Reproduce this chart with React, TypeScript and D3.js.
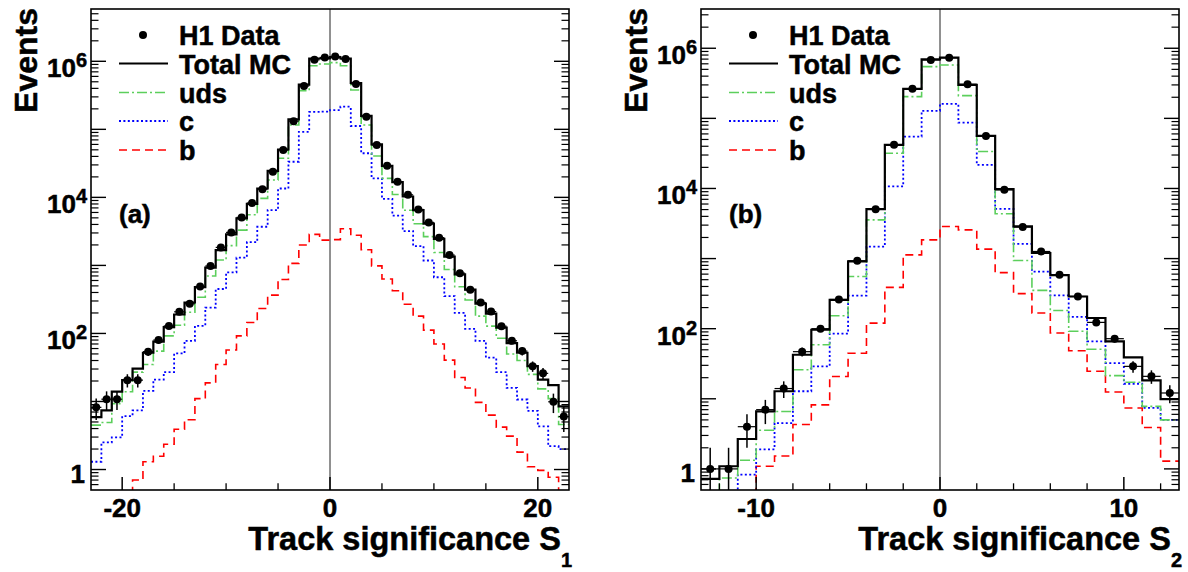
import * as d3 from 'd3';

const FONT = '"Liberation Sans", Arial, Helvetica, sans-serif';

// (a) track significance S1, 1-unit bins from -23 to 23
const s1Range: [number, number] = [-23, 23];
const s1Data = [8.2, 10.8, 10.8, 20.6, 20.6, 54, 80, 129, 208, 273, 490, 980, 1840, 3055, 5080, 8250, 13200, 23800, 49600, 132000, 433000, 1050000, 1140000, 1180000, 1080000, 464000, 153000, 58700, 29200, 17000, 10900, 6650, 4290, 2560, 1420, 770, 438, 285, 210, 128, 78, 55, 33, 25.9, 9.9, 6.0];
const s1MC = [5.9, 7.4, 14, 20.6, 30.5, 52, 76, 124, 190, 285, 480, 930, 1680, 2850, 4900, 8000, 13500, 24500, 50500, 140000, 455000, 1100000, 1100000, 1150000, 1100000, 480000, 158000, 60000, 29000, 16800, 10300, 6500, 4100, 2450, 1350, 740, 440, 275, 195, 122, 72, 52, 33, 21, 17.4, 8.5];
const s1Uds = [4.5, 4.9, 9.3, 13.9, 27, 35, 55, 92, 132, 205, 340, 700, 1200, 1950, 3300, 5550, 9660, 18000, 37500, 116000, 371000, 861000, 912000, 955000, 861000, 378000, 116000, 40500, 19000, 11000, 6470, 4100, 2650, 1550, 870, 485, 310, 180, 128, 85, 50, 40, 25, 15.3, 11, 4.6];
const s1C = [1.3, 2.5, 2.96, 6.1, 7.4, 14.3, 21, 27, 51, 78, 129, 240, 450, 790, 1300, 2200, 3700, 6500, 13500, 33400, 92000, 180000, 182000, 192000, 215000, 112000, 44500, 19000, 9500, 5400, 3200, 1920, 1180, 670, 354, 200, 117, 78, 44, 27, 15.8, 10.7, 7.3, 4.3, 2.2, 2.0];
const s1B = [0.3, 0.3, 0.3, 0.3, 0.7, 1.3, 1.57, 2.35, 3.9, 5.4, 11, 18.8, 35, 57, 92, 145, 233, 366, 620, 1070, 2000, 2860, 2350, 2390, 3450, 2780, 1700, 985, 630, 424, 268, 180, 112, 70, 40.5, 22.5, 15.8, 9.7, 6.3, 4.2, 3.1, 1.8, 1.1, 0.97, 0.77, 0.3];
const s1MajorTicks = [-20, 0, 20];
const s1MinorTicks = [-15, -10, -5, 5, 10, 15];

// (b) track significance S2, 1-unit bins from -13 to 13
const s2Range: [number, number] = [-13, 13];
const s2Data = [1, 1, 4, 7, 14, 47, 100, 261, 930, 5070, 41900, 265000, 680000, 734000, 307000, 56200, 9550, 2810, 1262, 587, 288, 123, 72, 29, 20.9, 12.1];
const s2MC = [0.72, 1.09, 2.67, 6.6, 12.8, 42.5, 96.6, 258, 910, 5070, 41900, 264000, 695000, 736000, 300000, 56400, 9800, 2880, 1200, 582, 288, 142, 66, 39, 18.3, 9.9];
const s2Uds = [0.45, 0.74, 1.33, 3.55, 6.6, 26, 59, 153, 556, 3570, 31800, 204000, 547000, 578000, 211000, 33600, 4350, 940, 352, 182, 92, 51, 21.4, 17.2, 7.8, 5.0];
const s2C = [0.3, 0.3, 0.83, 1.9, 4.5, 12.8, 29, 85, 296, 1480, 10700, 55000, 128000, 161000, 87000, 21700, 5110, 1620, 653, 298, 147, 66, 32.3, 16.4, 7.4, 5.0];
const s2B = [0.3, 0.3, 0.3, 1.09, 1.53, 4.3, 8.2, 20.8, 44.7, 120, 388, 1130, 1850, 2870, 2570, 1365, 631, 316, 167, 86.7, 48.5, 24.7, 12.5, 7.4, 3.9, 1.29];
const s2MajorTicks = [-10, 0, 10];
const s2MinorTicks = [-12, -8, -6, -4, -2, 2, 4, 6, 8, 12];

const yLabelPowers = [0, 2, 4, 6];
const legendLabels = ['H1 Data', 'Total MC', 'uds', 'c', 'b'];

const GREEN = '#5ccf5c';
const styles = {
  mc: { stroke: '#000', width: 2.2, dash: undefined as string | undefined },
  uds: { stroke: GREEN, width: 1.6, dash: '10 3 2 3' },
  c: { stroke: '#0000ff', width: 1.8, dash: '2 2.4' },
  b: { stroke: '#ff0000', width: 1.6, dash: '8 5' },
};

const TOP = 9;
const BOTTOM = 490;

interface PanelProps {
  id: string;
  left: number;
  right: number;
  range: [number, number];
  yMax: number;
  data: number[];
  mc: number[];
  uds: number[];
  c: number[];
  b: number[];
  major: number[];
  minor: number[];
  tag: string;
  sub: string;
}

function Panel(p: PanelProps) {
  const x = d3.scaleLinear().domain(p.range).range([p.left, p.right]);
  const y = d3.scaleLog().domain([0.5, p.yMax]).range([BOTTOM, TOP]);
  const edge = (i: number) => p.range[0] + i;

  const step = d3
    .line<[number, number]>()
    .x((d) => x(d[0]))
    .y((d) => y(Math.max(d[1], 0.05)));
  const stepPath = (vals: number[]) =>
    step(vals.flatMap((v, i) => [[edge(i), v], [edge(i + 1), v]] as [number, number][])) || '';

  // log-axis ticks
  const yMajor: number[] = [];
  const yMinor: number[] = [];
  for (let k = -1; k <= 7; k++) {
    for (let m = 1; m <= 9; m++) {
      const v = m * Math.pow(10, k);
      if (v <= 0.5 || v >= p.yMax) continue;
      (m === 1 ? yMajor : yMinor).push(v);
    }
  }

  const clipId = `clip-${p.id}`;
  const legendRows = [35, 63.5, 92.5, 121, 150];
  const series = [
    { key: 'mc', vals: p.mc },
    { key: 'uds', vals: p.uds },
    { key: 'c', vals: p.c },
    { key: 'b', vals: p.b },
  ] as const;

  return (
    <g>
      <defs>
        <clipPath id={clipId}>
          <rect x={p.left} y={TOP} width={p.right - p.left} height={BOTTOM - TOP} />
        </clipPath>
      </defs>

      {/* zero line */}
      <line x1={x(0)} x2={x(0)} y1={TOP} y2={BOTTOM} stroke="#222" strokeWidth={1} />

      <g clipPath={`url(#${clipId})`}>
        {[...series].reverse().map((s) => {
          const st = styles[s.key];
          return (
            <path
              key={s.key}
              d={stepPath(s.vals)}
              fill="none"
              stroke={st.stroke}
              strokeWidth={st.width}
              strokeDasharray={st.dash}
            />
          );
        })}
        {p.data.map((v, i) => {
          const cx = x(edge(i) + 0.5);
          const err = Math.sqrt(v);
          return (
            <g key={i}>
              <line x1={x(edge(i))} x2={x(edge(i + 1))} y1={y(v)} y2={y(v)} stroke="#000" strokeWidth={1.2} />
              <line x1={cx} x2={cx} y1={y(Math.max(v - err, 0.05))} y2={y(v + err)} stroke="#000" strokeWidth={1.5} />
              <circle cx={cx} cy={y(v)} r={4} fill="#000" />
            </g>
          );
        })}
      </g>

      {/* frame */}
      <rect x={p.left} y={TOP} width={p.right - p.left} height={BOTTOM - TOP} fill="none" stroke="#000" strokeWidth={1.6} />

      {/* y ticks both sides */}
      {yMajor.map((v) => (
        <g key={`M${v}`}>
          <line x1={p.left} x2={p.left + 15} y1={y(v)} y2={y(v)} stroke="#000" strokeWidth={1.4} />
          <line x1={p.right} x2={p.right - 15} y1={y(v)} y2={y(v)} stroke="#000" strokeWidth={1.4} />
        </g>
      ))}
      {yMinor.map((v) => (
        <g key={`m${v}`}>
          <line x1={p.left} x2={p.left + 7.5} y1={y(v)} y2={y(v)} stroke="#000" strokeWidth={1.2} />
          <line x1={p.right} x2={p.right - 7.5} y1={y(v)} y2={y(v)} stroke="#000" strokeWidth={1.2} />
        </g>
      ))}

      {/* x ticks */}
      {p.major.map((t) => (
        <line key={`X${t}`} x1={x(t)} x2={x(t)} y1={BOTTOM} y2={BOTTOM - 13} stroke="#000" strokeWidth={1.5} />
      ))}
      {p.minor.map((t) => (
        <line key={`x${t}`} x1={x(t)} x2={x(t)} y1={BOTTOM} y2={BOTTOM - 6.7} stroke="#000" strokeWidth={1.3} />
      ))}

      <g fontFamily={FONT} fontWeight="bold" fill="#000" stroke="#000" strokeWidth={0.5}>
        {p.major.map((t) => (
          <text key={`l${t}`} x={x(t)} y={516.5} fontSize={26} textAnchor="middle">
            {t < 0 ? `-${-t}` : t}
          </text>
        ))}
        {yLabelPowers.map((k) =>
          k === 0 ? (
            <text key={k} x={p.left - 6} y={y(1) + 13.5} fontSize={26} textAnchor="end">
              1
            </text>
          ) : (
            <text key={k} x={p.left - 4} y={y(Math.pow(10, k)) + 16} fontSize={26} textAnchor="end">
              10
              <tspan fontSize={20} dy={-10}>
                {k}
              </tspan>
            </text>
          ),
        )}

        <text transform={`translate(${p.left - 54},8) rotate(-90)`} fontSize={32} textAnchor="end">
          Events
        </text>

        <text x={p.right + 3} y={550} fontSize={32.5} textAnchor="end">
          Track significance S
          <tspan fontSize={20} dy={17}>
            {p.sub}
          </tspan>
        </text>

        <text x={p.left + 28} y={222.5} fontSize={26}>
          {p.tag}
        </text>

        {/* legend */}
        {legendLabels.map((lab, i) => {
          const ly = legendRows[i];
          const st = i === 0 ? null : styles[series[i - 1].key];
          return (
            <g key={lab}>
              {st ? (
                <line
                  x1={p.left + 28}
                  x2={p.left + 77}
                  y1={ly}
                  y2={ly}
                  stroke={st.stroke}
                  strokeWidth={st.width}
                  strokeDasharray={st.dash}
                />
              ) : (
                <circle cx={p.left + 52} cy={ly} r={4} fill="#000" stroke="none" />
              )}
              <text x={p.left + 88} y={ly + 10} fontSize={27}>
                {lab}
              </text>
            </g>
          );
        })}
      </g>
    </g>
  );
}

export default function App() {
  return (
    <svg
      width={1188}
      height={572}
      style={{ position: 'absolute', left: 0, top: 0, background: '#fff' }}
    >
      <rect width={1188} height={572} fill="#fff" />
      <Panel
        id="a"
        left={91}
        right={569}
        range={s1Range}
        yMax={5.87e6}
        data={s1Data}
        mc={s1MC}
        uds={s1Uds}
        c={s1C}
        b={s1B}
        major={s1MajorTicks}
        minor={s1MinorTicks}
        tag="(a)"
        sub="1"
      />
      <Panel
        id="b"
        left={701}
        right={1179}
        range={s2Range}
        yMax={3.63e6}
        data={s2Data}
        mc={s2MC}
        uds={s2Uds}
        c={s2C}
        b={s2B}
        major={s2MajorTicks}
        minor={s2MinorTicks}
        tag="(b)"
        sub="2"
      />
    </svg>
  );
}
